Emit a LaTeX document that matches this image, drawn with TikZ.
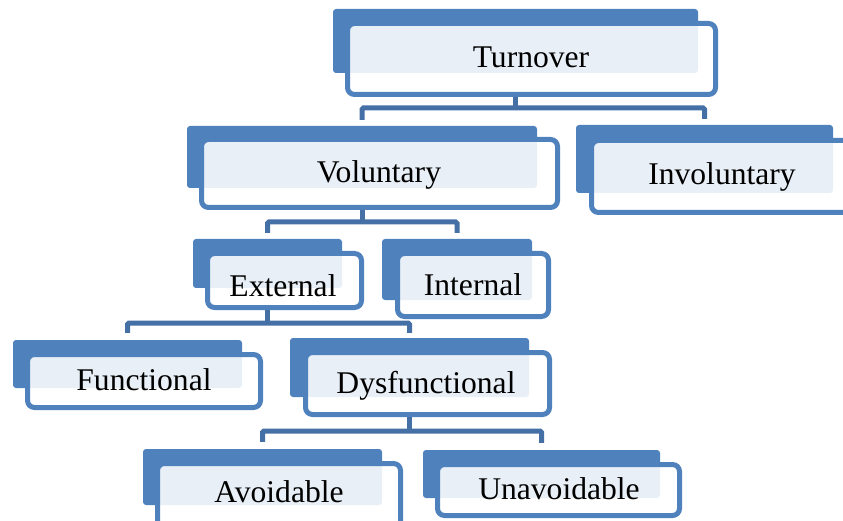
\documentclass[tikz,border=0pt]{standalone}
\usepackage{fontspec}
\setmainfont{Liberation Serif}
\usetikzlibrary{fit}
\definecolor{tabblue}{HTML}{4F81BD}
\definecolor{lineblue}{HTML}{4470A6}
\begin{document}
\begin{tikzpicture}[x=1pt,y=-1pt,
  tabbox/.style={draw=none, fill=tabblue, rounded corners=3pt, inner sep=0pt},
  wbox/.style={draw=tabblue, line width=5pt, fill=white, fill opacity=0.88, rounded corners=7pt, inner sep=0pt},
  lbl/.style={anchor=base, font=\fontsize{31.6}{36}\selectfont, inner sep=0pt},
  conn/.style={draw=lineblue, line width=5pt, rounded corners=1.5pt}]
\clip (0,0) rectangle (843,521);
\fill[white] (0,0) rectangle (843,521);

% Turnover
\node[tabbox, fit={(333,9) (698,73)}] (tT) {};
\node[wbox, fit={(347.5,23.5) (715.5,94.5)}] (bT) {};
\node[lbl] (lT) at (531,68) {Turnover};
% Voluntary
\node[tabbox, fit={(187,126) (537,188)}] (tV) {};
\node[wbox, fit={(201.5,139.5) (557.5,207.5)}] (bV) {};
\node[lbl] (lV) at (379,183) {Voluntary};
% Involuntary
\node[tabbox, fit={(576,125) (833,193)}] (tI) {};
\node[wbox, fit={(591.5,140.5) (857.5,212.5)}] (bI) {};
\node[lbl] (lI) at (722,185) {Involuntary};
% External
\node[tabbox, fit={(193,239) (342,288)}] (tE) {};
\node[wbox, fit={(207.5,253.5) (361.5,307.5)}] (bE) {};
\node[lbl] (lE) at (283,297) {External};
% Internal
\node[tabbox, fit={(382,239) (532,300)}] (tN) {};
\node[wbox, fit={(397.5,253.5) (548.5,316.5)}] (bN) {};
\node[lbl] (lN) at (473,295) {Internal};
% Functional
\node[tabbox, fit={(13,340) (242,388)}] (tF) {};
\node[wbox, fit={(27.5,354.5) (260.5,407.5)}] (bF) {};
\node[lbl] (lF) at (144,390) {Functional};
% Dysfunctional
\node[tabbox, fit={(290,338) (529,397)}] (tD) {};
\node[wbox, fit={(305.5,352.5) (549.5,414.5)}] (bD) {};
\node[lbl] (lD) at (426,393) {Dysfunctional};
% Avoidable
\node[tabbox, fit={(143,449) (382,505)}] (tA) {};
\node[wbox, fit={(157.5,463.5) (400.5,537.5)}] (bA) {};
\node[lbl] (lA) at (279,502) {Avoidable};
% Unavoidable
\node[tabbox, fit={(423,450) (660,498)}] (tU) {};
\node[wbox, fit={(437.5,464.5) (679.5,515.5)}] (bU) {};
\node[lbl] (lU) at (559,499) {Unavoidable};

% junction levels
\coordinate (jT) at (515.5,108);
\coordinate (jV) at (362,222);
\coordinate (jE) at (267.5,323);
\coordinate (jD) at (409.5,431);

% connectors
\draw[conn] (tT.center |- bT.south) -- (jT);
\draw[conn] ([yshift=6pt]tV.north) |- (jT) -| ([yshift=6pt]tI.north);
\draw[conn] (tV.center |- bV.south) -- (jV);
\draw[conn] ([yshift=6pt]tE.north) |- (jV) -| ([yshift=6pt]tN.north);
\draw[conn] (tE.center |- bE.south) -- (jE);
\draw[conn] ([yshift=7pt]tF.north) |- (jE) -| ([yshift=5pt]tD.north);
\draw[conn] (tD.center |- bD.south) -- (jD);
\draw[conn] ([yshift=7pt]tA.north) |- (jD) -| ([yshift=7pt]tU.north);
\end{tikzpicture}
\end{document}
